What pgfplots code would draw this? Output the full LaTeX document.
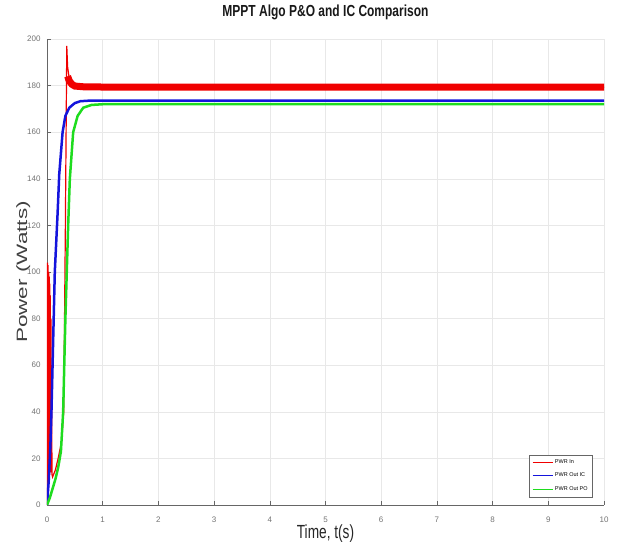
\documentclass[border=0pt]{standalone}
\usepackage{pgfplots}
\pgfplotsset{compat=1.18}
\usepackage{fontspec}
\setmainfont{Liberation Sans}
\definecolor{mred}{RGB}{240,0,0}
\definecolor{mblue}{RGB}{20,20,220}
\definecolor{mgreen}{RGB}{30,220,30}
\begin{document}
\begin{tikzpicture}[x=1pt,y=1pt]
\begin{axis}[
  scale only axis,
  width=557pt, height=466pt,
  xmin=0, xmax=10, ymin=0, ymax=200,
  xtick={0,1,...,10}, ytick={0,20,...,200},
  grid=major,
  grid style={color=black!9, line width=0.5pt},
  axis line style={color=black!60, line width=0.6pt},
  axis x line*=bottom, axis y line*=left,
  tick style={color=black!60, line width=0.5pt},
  major tick length=4pt,
  tick align=inside,
  ticklabel style={font=\fontsize{8}{8}\selectfont, color=black!55},
  /pgf/number format/assume math mode=true,
  xticklabel style={yshift=-8pt},
  yticklabel style={xshift=-3pt},
  title={\scalebox{0.75}[1]{\bfseries\fontsize{16}{16}\selectfont MPPT Algo P\&O and IC Comparison}},
  title style={at={(0.5,1)}, anchor=south, yshift=10pt, color=black!90},
  xlabel={\scalebox{0.72}[1]{\fontsize{19}{19}\selectfont Time, t(s)}},
  xlabel style={yshift=4pt, color=black!85},
  ylabel={\scalebox{1.5}[1]{\fontsize{15}{15}\selectfont Power (Watts)}},
  ylabel style={yshift=-10pt, color=black!75},
  legend style={at={(0.980,0.017)}, anchor=south east,
    font=\fontsize{5.5}{5.5}\selectfont,
    draw=black!60, line width=0.5pt, fill=white, row sep=4pt, inner sep=3pt},
  legend cell align=left,
  legend image code/.code={\draw[#1, line width=0.8pt] (0pt,0pt) -- (20pt,0pt);},
]
% PWR In
\addplot[mred, line width=1.2pt] coordinates {
(0,0) (0.01,104) (0.015,10) (0.02,103) (0.025,12) (0.03,100) (0.035,12)
(0.04,98) (0.045,13) (0.05,95) (0.055,14) (0.06,90) (0.065,14) (0.07,80)
(0.075,15) (0.08,60) (0.09,13) (0.1,12) (0.15,15) (0.2,20) (0.26,27)
(0.3,40) (0.33,120) (0.355,197) (0.37,188) (0.4,183) (0.45,181)
(0.5,180) (0.7,179.5) (10,179.3)};
\addlegendentry{PWR In}
% PWR Out IC
\addplot[mblue, line width=2.5pt] coordinates {
(0,0) (0.03,10) (0.06,25) (0.08,40) (0.11,70) (0.14,100) (0.19,125)
(0.22,142) (0.28,160) (0.33,167) (0.4,170.5) (0.5,172.5) (0.6,173.3)
(0.8,173.6) (10,173.6)};
\addlegendentry{PWR Out IC}
% PWR Out PO
\addplot[mgreen, line width=2.5pt] coordinates {
(0,0) (0.05,3) (0.1,7) (0.15,11) (0.2,16) (0.25,23) (0.29,40) (0.33,80)
(0.38,120) (0.41,140) (0.47,160) (0.55,167) (0.65,170.5) (0.8,171.7)
(1,172) (10,172)};
\addlegendentry{PWR Out PO}
% thick oscillation band of PWR In
\addplot[mred, line width=7pt, forget plot] coordinates {
(0.37,184) (0.4,182) (0.45,180.5) (0.5,179.8) (0.7,179.4) (10,179.3)};
\coordinate (SW) at (rel axis cs:0,0);
\end{axis}
\path[use as bounding box] (SW) ++(-47,-54) rectangle ++(619,559);
\end{tikzpicture}
\end{document}
